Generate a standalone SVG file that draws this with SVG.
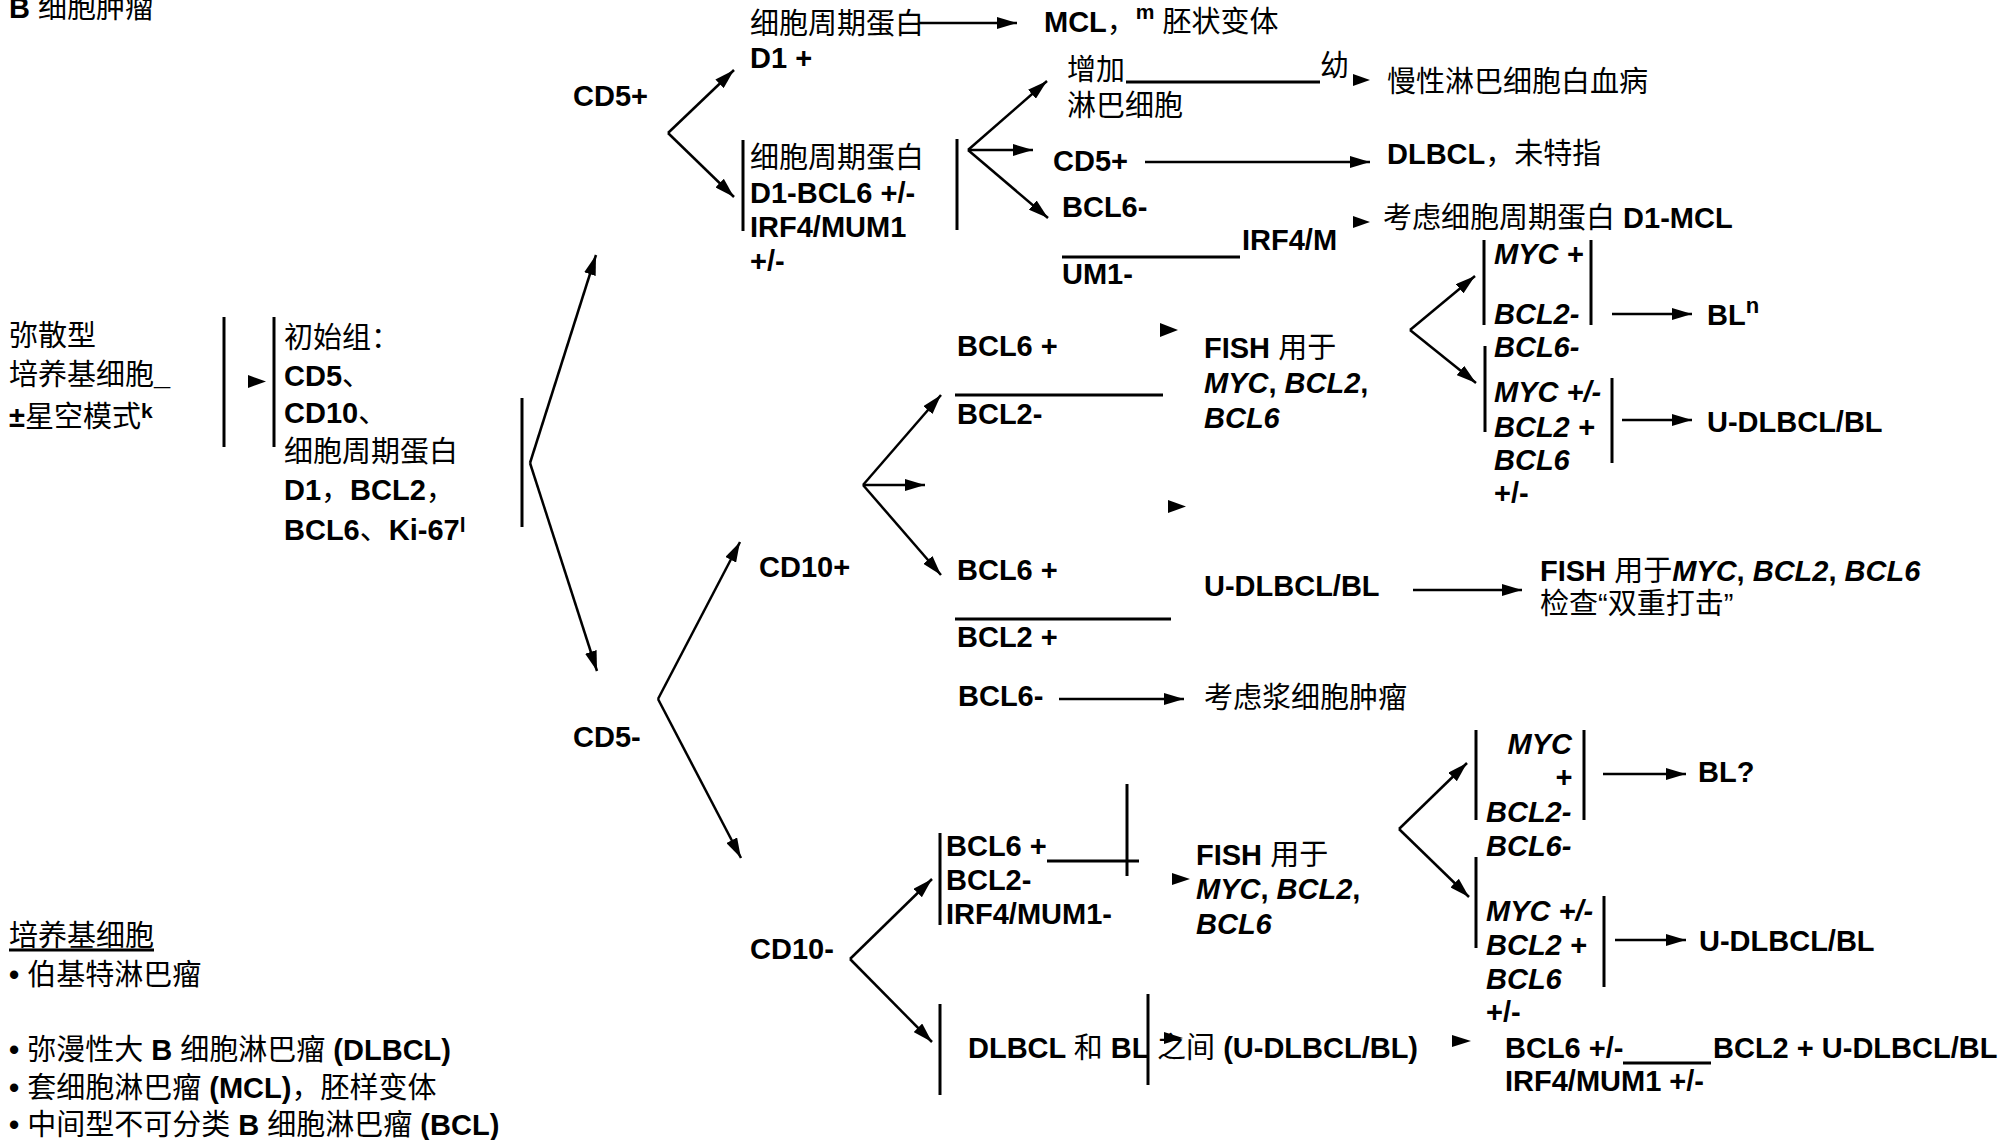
<svg xmlns="http://www.w3.org/2000/svg" width="2003" height="1140" viewBox="0 0 2003 1140">
  <style>
    text { font-family: "Liberation Sans", "Noto Sans CJK SC", sans-serif; font-size: 29px; font-weight: bold; fill: #000; }
    .n { font-weight: normal; }
    .i { font-style: italic; }
    .sup { font-size: 21px; }
    .ln { stroke: #000; stroke-width: 3; fill: none; }
    .ar { stroke: #000; stroke-width: 2.5; fill: none; marker-end: url(#ah); }
    .tri { fill: #000; }
  </style>
  <defs>
    <marker id="ah" markerUnits="userSpaceOnUse" markerWidth="20" markerHeight="12" refX="20" refY="6" orient="auto">
      <path d="M0,0 L20,6 L0,12 z" fill="#000"/>
    </marker>
  </defs>
  <rect width="2003" height="1140" fill="#fff"/>

  <!-- connectors: branch arrows, bracket bars, divider lines -->
  <g id="connectors">
    <!-- main split -->
    <line class="ar" x1="530" y1="463" x2="596" y2="255"/>
    <line class="ar" x1="530" y1="463" x2="597" y2="671"/>
    <!-- CD5+ split -->
    <line class="ar" x1="668" y1="133" x2="734" y2="70"/>
    <line class="ar" x1="668" y1="133" x2="734" y2="197"/>
    <line class="ar" x1="919" y1="23" x2="1017" y2="23"/>
    <line class="ar" x1="968" y1="150" x2="1047" y2="81"/>
    <line class="ar" x1="968" y1="150" x2="1033" y2="150"/>
    <line class="ar" x1="968" y1="150" x2="1048" y2="218"/>
    <line class="ar" x1="1145" y1="162" x2="1370" y2="162"/>
    <!-- CD5- split -->
    <line class="ar" x1="658" y1="699" x2="740" y2="542"/>
    <line class="ar" x1="658" y1="699" x2="741" y2="858"/>
    <!-- CD10+ split -->
    <line class="ar" x1="863" y1="485" x2="941" y2="395"/>
    <line class="ar" x1="863" y1="485" x2="925" y2="485"/>
    <line class="ar" x1="863" y1="485" x2="941" y2="575"/>
    <line class="ar" x1="1059" y1="699" x2="1184" y2="699"/>
    <line class="ar" x1="1413" y1="590" x2="1522" y2="590"/>
    <!-- FISH result split (upper) -->
    <line class="ar" x1="1410" y1="330" x2="1475" y2="276"/>
    <line class="ar" x1="1410" y1="330" x2="1476" y2="383"/>
    <line class="ar" x1="1612" y1="314" x2="1692" y2="314"/>
    <line class="ar" x1="1622" y1="420" x2="1692" y2="420"/>
    <!-- CD10- split -->
    <line class="ar" x1="850" y1="959" x2="932" y2="879"/>
    <line class="ar" x1="850" y1="959" x2="932" y2="1042"/>
    <!-- FISH result split (lower) -->
    <line class="ar" x1="1399" y1="829" x2="1467" y2="763"/>
    <line class="ar" x1="1399" y1="829" x2="1469" y2="897"/>
    <line class="ar" x1="1603" y1="774" x2="1686" y2="774"/>
    <line class="ar" x1="1615" y1="940" x2="1686" y2="940"/>

    <!-- bracket bars -->
    <line class="ln" x1="224" y1="317" x2="224" y2="447"/>
    <line class="ln" x1="274" y1="317" x2="274" y2="447"/>
    <line class="ln" x1="522" y1="398" x2="522" y2="527"/>
    <line class="ln" x1="743" y1="140" x2="743" y2="231"/>
    <line class="ln" x1="957" y1="139" x2="957" y2="230"/>
    <line class="ln" x1="1484" y1="240" x2="1484" y2="325"/>
    <line class="ln" x1="1591" y1="240" x2="1591" y2="325"/>
    <line class="ln" x1="1485" y1="346" x2="1485" y2="432"/>
    <line class="ln" x1="1612" y1="378" x2="1612" y2="463"/>
    <line class="ln" x1="940" y1="833" x2="940" y2="925"/>
    <line class="ln" x1="1127" y1="784" x2="1127" y2="876"/>
    <line class="ln" x1="940" y1="1004" x2="940" y2="1095"/>
    <line class="ln" x1="1148" y1="994" x2="1148" y2="1085"/>
    <line class="ln" x1="1476" y1="730" x2="1476" y2="820"/>
    <line class="ln" x1="1584" y1="730" x2="1584" y2="820"/>
    <line class="ln" x1="1476" y1="857" x2="1476" y2="948"/>
    <line class="ln" x1="1604" y1="896" x2="1604" y2="987"/>

    <!-- divider / fill-in lines -->
    <line class="ln" x1="1126" y1="82" x2="1320" y2="82"/>
    <line class="ln" x1="1062" y1="257" x2="1240" y2="257"/>
    <line class="ln" x1="955" y1="395" x2="1163" y2="395"/>
    <line class="ln" x1="955" y1="619" x2="1171" y2="619"/>
    <line class="ln" x1="1047" y1="861" x2="1139" y2="861"/>
    <line class="ln" x1="1623" y1="1063" x2="1711" y2="1063"/>

    <!-- loose arrowheads -->
    <polygon class="tri" points="248,375 266,381.5 248,388"/>
    <polygon class="tri" points="1353,74 1370,80 1353,86"/>
    <polygon class="tri" points="1353,216 1370,222 1353,228"/>
    <polygon class="tri" points="1160,323 1178,330 1160,337"/>
    <polygon class="tri" points="1168,500 1186,506.5 1168,513"/>
    <polygon class="tri" points="1172,873 1190,879 1172,885"/>
    <polygon class="tri" points="1164,1032 1183,1038 1164,1044"/>
    <polygon class="tri" points="1452,1035 1471,1041 1452,1047"/>
  </g>

  <g id="title">
    <text x="9" y="18">B <tspan class="n">细胞肿瘤</tspan></text>
  </g>

  <g id="diffuse">
    <text x="9" y="346" class="n">弥散型</text>
    <text x="9" y="385"><tspan class="n">培养基细胞</tspan>_</text>
    <text x="9" y="427">±<tspan class="n">星空模式</tspan><tspan class="sup" dy="-9">k</tspan></text>
  </g>

  <g id="initial-panel">
    <text x="284" y="348" class="n">初始组：</text>
    <text x="284" y="386">CD5<tspan class="n">、</tspan></text>
    <text x="284" y="423">CD10<tspan class="n">、</tspan></text>
    <text x="284" y="462" class="n">细胞周期蛋白</text>
    <text x="284" y="500">D1<tspan class="n">，</tspan>BCL2<tspan class="n">，</tspan></text>
    <text x="284" y="540">BCL6<tspan class="n">、</tspan>Ki-67<tspan class="sup" dy="-8">l</tspan></text>
  </g>

  <g id="cd5-pos">
    <text x="573" y="106">CD5+</text>
  </g>

  <g id="cyclin-d1-pos">
    <text x="750" y="34" class="n">细胞周期蛋白</text>
    <text x="750" y="68">D1 +</text>
  </g>

  <g id="mcl-blastoid">
    <text x="1044" y="32">MCL<tspan class="n">，</tspan><tspan class="sup" dy="-13">m</tspan><tspan class="n" dy="13"> 胚状变体</tspan></text>
  </g>

  <g id="cyclin-d1-neg">
    <text x="750" y="168" class="n">细胞周期蛋白</text>
    <text x="750" y="203">D1-BCL6 +/-</text>
    <text x="750" y="237">IRF4/MUM1</text>
    <text x="750" y="271">+/-</text>
  </g>

  <g id="prolymphocytes">
    <text x="1067" y="80" class="n">增加</text>
    <text x="1320" y="76" class="n">幼</text>
    <text x="1067" y="116" class="n">淋巴细胞</text>
  </g>

  <g id="cll">
    <text x="1387" y="92" class="n">慢性淋巴细胞白血病</text>
  </g>

  <g id="cd5-pos-2">
    <text x="1053" y="171">CD5+</text>
  </g>

  <g id="dlbcl-nos">
    <text x="1387" y="164">DLBCL<tspan class="n">，未特指</tspan></text>
  </g>

  <g id="bcl6-neg-irf4-neg">
    <text x="1062" y="217">BCL6-</text>
    <text x="1242" y="250">IRF4/M</text>
    <text x="1062" y="284">UM1-</text>
  </g>

  <g id="consider-mcl">
    <text x="1383" y="228"><tspan class="n">考虑细胞周期蛋白</tspan> D1-MCL</text>
  </g>

  <g id="cd5-neg">
    <text x="573" y="747">CD5-</text>
  </g>

  <g id="cd10-pos">
    <text x="759" y="577">CD10+</text>
  </g>

  <g id="bcl6-pos-bcl2-neg">
    <text x="957" y="356">BCL6 +</text>
    <text x="957" y="424">BCL2-</text>
  </g>

  <g id="fish-upper">
    <text x="1204" y="358">FISH <tspan class="n">用于</tspan></text>
    <text x="1204" y="393"><tspan class="i">MYC</tspan>, <tspan class="i">BCL2</tspan>,</text>
    <text x="1204" y="428" class="i">BCL6</text>
  </g>

  <g id="myc-pos-box">
    <text x="1494" y="264" class="i">MYC +</text>
    <text x="1494" y="324" class="i">BCL2-</text>
    <text x="1494" y="357" class="i">BCL6-</text>
  </g>

  <g id="bl">
    <text x="1707" y="325">BL<tspan class="sup" dy="-12" style="font-size:22px">n</tspan></text>
  </g>

  <g id="myc-mixed-box">
    <text x="1494" y="402" class="i">MYC +/-</text>
    <text x="1494" y="437" class="i">BCL2 +</text>
    <text x="1494" y="470" class="i">BCL6</text>
    <text x="1494" y="503">+/-</text>
  </g>

  <g id="udlbcl-upper">
    <text x="1707" y="432">U-DLBCL/BL</text>
  </g>

  <g id="bcl6-pos-bcl2-pos">
    <text x="957" y="580">BCL6 +</text>
    <text x="957" y="647">BCL2 +</text>
  </g>

  <g id="udlbcl-mid">
    <text x="1204" y="596">U-DLBCL/BL</text>
  </g>

  <g id="double-hit">
    <text x="1540" y="581">FISH <tspan class="n">用于</tspan><tspan class="i">MYC</tspan>, <tspan class="i">BCL2</tspan>, <tspan class="i">BCL6</tspan></text>
    <text x="1540" y="614" class="n">检查“双重打击”</text>
  </g>

  <g id="bcl6-neg">
    <text x="958" y="706">BCL6-</text>
  </g>

  <g id="plasma-cell">
    <text x="1204" y="708" class="n">考虑浆细胞肿瘤</text>
  </g>

  <g id="cd10-neg">
    <text x="750" y="959">CD10-</text>
  </g>

  <g id="bcl6-bcl2-irf4">
    <text x="946" y="856">BCL6 +</text>
    <text x="946" y="890">BCL2-</text>
    <text x="946" y="924">IRF4/MUM1-</text>
  </g>

  <g id="fish-lower">
    <text x="1196" y="865">FISH <tspan class="n">用于</tspan></text>
    <text x="1196" y="899"><tspan class="i">MYC</tspan>, <tspan class="i">BCL2</tspan>,</text>
    <text x="1196" y="934" class="i">BCL6</text>
  </g>

  <g id="myc-pos-box-lower">
    <text x="1572" y="754" class="i" text-anchor="end">MYC</text>
    <text x="1572" y="787" class="i" text-anchor="end">+</text>
    <text x="1486" y="822" class="i">BCL2-</text>
    <text x="1486" y="856" class="i">BCL6-</text>
  </g>

  <g id="bl-query">
    <text x="1698" y="782">BL?</text>
  </g>

  <g id="myc-mixed-box-lower">
    <text x="1486" y="921" class="i">MYC +/-</text>
    <text x="1486" y="955" class="i">BCL2 +</text>
    <text x="1486" y="989" class="i">BCL6</text>
    <text x="1486" y="1022">+/-</text>
  </g>

  <g id="udlbcl-lower">
    <text x="1699" y="951">U-DLBCL/BL</text>
  </g>

  <g id="intermediate">
    <text x="968" y="1058">DLBCL <tspan class="n">和</tspan> BL <tspan class="n">之间</tspan> (U-DLBCL/BL)</text>
  </g>

  <g id="bcl6-irf4-result">
    <text x="1505" y="1058">BCL6 +/-</text>
    <text x="1713" y="1058">BCL2 + U-DLBCL/BL</text>
    <text x="1505" y="1091">IRF4/MUM1 +/-</text>
  </g>

  <g id="legend">
    <text x="9" y="946" class="n">培养基细胞</text>
    <line class="ln" x1="9" y1="950" x2="154" y2="950" stroke-width="2"/>
    <text x="9" y="985">• <tspan class="n">伯基特淋巴瘤</tspan></text>
    <text x="9" y="1060">• <tspan class="n">弥漫性大</tspan> B <tspan class="n">细胞淋巴瘤</tspan> (DLBCL)</text>
    <text x="9" y="1098">• <tspan class="n">套细胞淋巴瘤</tspan> (MCL)<tspan class="n">，胚样变体</tspan></text>
    <text x="9" y="1135">• <tspan class="n">中间型不可分类</tspan> B <tspan class="n">细胞淋巴瘤</tspan> (BCL)</text>
  </g>
</svg>
